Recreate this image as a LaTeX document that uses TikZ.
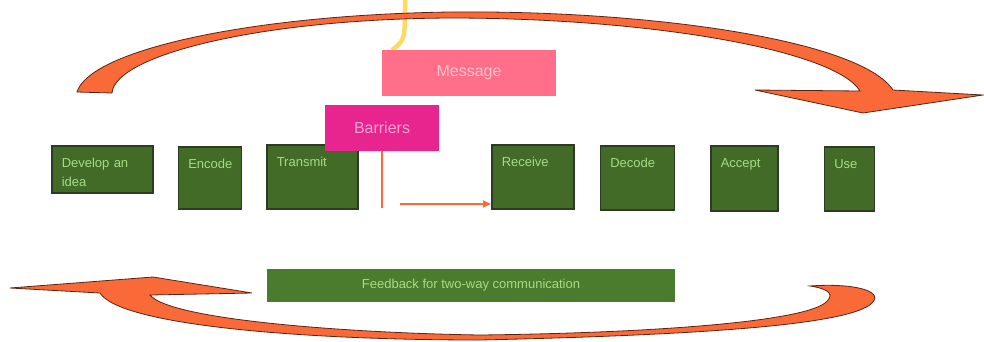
\documentclass[tikz,border=0pt]{standalone}
\usepackage{fontspec}
\setmainfont{Liberation Sans}
\usetikzlibrary{positioning,arrows.meta}
\definecolor{boxgreen}{HTML}{416B27}
\definecolor{boxedge}{HTML}{2E3B24}
\definecolor{boxtext}{HTML}{A6DC86}
\definecolor{fbgreen}{HTML}{4B7B2C}
\definecolor{msgpink}{HTML}{FF6F8A}
\definecolor{msgtext}{HTML}{FFC2CC}
\definecolor{barmag}{HTML}{E8258F}
\definecolor{bartext}{HTML}{FFA3D6}
\definecolor{flowred}{HTML}{FA6A38}
\definecolor{flowedge}{HTML}{5A2414}
\definecolor{inyellow}{HTML}{FFD966}
\begin{document}
\begin{tikzpicture}[x=1pt,y=-1pt,flow/.style={draw=flowred,line width=2.5pt}]
    \tikzstyle{stepbox} = [draw=boxedge, line width=1.5pt, fill=boxgreen, text=boxtext, anchor=north west, align=left, inner xsep=10pt, inner ysep=12pt, text height=9.5pt, font=\fontsize{13}{19.5}\selectfont]
    \tikzstyle{bigarrow} = [fill=flowred, draw=flowedge, line width=0.8pt]
    \tikzstyle{tag} = [minimum height=46pt, font=\fontsize{16}{16}\selectfont]
        \fill[white] (0,0) rectangle (984,341);
        \useasboundingbox (0,0) rectangle (984,341);
        % sender side
        \node[stepbox,text width=81pt,text depth=13.5pt] (idea) at (51,145) {Develop an\\idea};
        \node[stepbox,text width=43pt,text depth=28.5pt,xshift=24pt,yshift=-1pt] (encode) at (idea.north east) {Encode};
        \node[stepbox,text width=71pt,text depth=30.5pt,xshift=24pt,yshift=2pt] (transmit) at (encode.north east) {Transmit};
        % receiver side
        \node[stepbox,text width=62pt,text depth=30.5pt] (receive) at (491,144) {Receive};
        \node[stepbox,text width=54pt,text depth=30.5pt,xshift=25pt,yshift=-1pt] (decode) at (receive.north east) {Decode};
        \node[stepbox,text width=47pt,text depth=31.5pt,xshift=35pt] (accept) at (decode.north east) {Accept};
        \node[stepbox,text width=30pt,text depth=30.5pt,xshift=45pt,yshift=-1pt] (use) at (accept.north east) {Use};
        % message and barriers
        \coordinate (msgin) at (405,0);
        \draw[inyellow,line width=4.5pt] (msgin) .. controls (405,40) .. (392,50);
        \node[tag,fill=msgpink,text=msgtext,minimum width=174pt] (message) at (469,73) {Message};
        \node[tag,fill=barmag,text=bartext,minimum width=114pt] (barriers) at (382,128) {Barriers};
        \coordinate (cut) at (382,208);
        \draw[flow] (barriers.south) -- (cut);
        \coordinate (gap) at (400,204);
        \draw[flow,-{Triangle[length=8pt,width=7pt]}] (gap) -- (gap -| receive.west);
        % feedback
        \node[fill=fbgreen,text=boxtext,minimum width=408pt,minimum height=33pt,font=\fontsize{13}{13}\selectfont] (feedback) at (471,285.5) {Feedback for two-way communication};
        % top arrow
        \filldraw[bigarrow] (77,92) .. controls (90,50) and (250,15) .. (450,12)
            .. controls (650,10) and (860,40) .. (893,90)
            -- (983,95) -- (863,113) -- (755,90) -- (860,91)
            .. controls (835,50) and (650,18) .. (450,18)
            .. controls (260,19) and (115,55) .. (112,93) -- cycle;
        % bottom arrow
        \filldraw[bigarrow] (810,286) .. controls (850,283) and (885,290) .. (872,303)
            .. controls (850,325) and (700,335) .. (480,340)
            .. controls (300,340) and (120,325) .. (100,293)
            -- (10,288) -- (153,277) -- (252,293) -- (150,295)
            .. controls (170,320) and (350,333) .. (480,335)
            .. controls (650,333) and (800,322) .. (825,303)
            .. controls (835,295) and (830,289) .. (810,286) -- cycle;
    \end{tikzpicture}
\end{document}
